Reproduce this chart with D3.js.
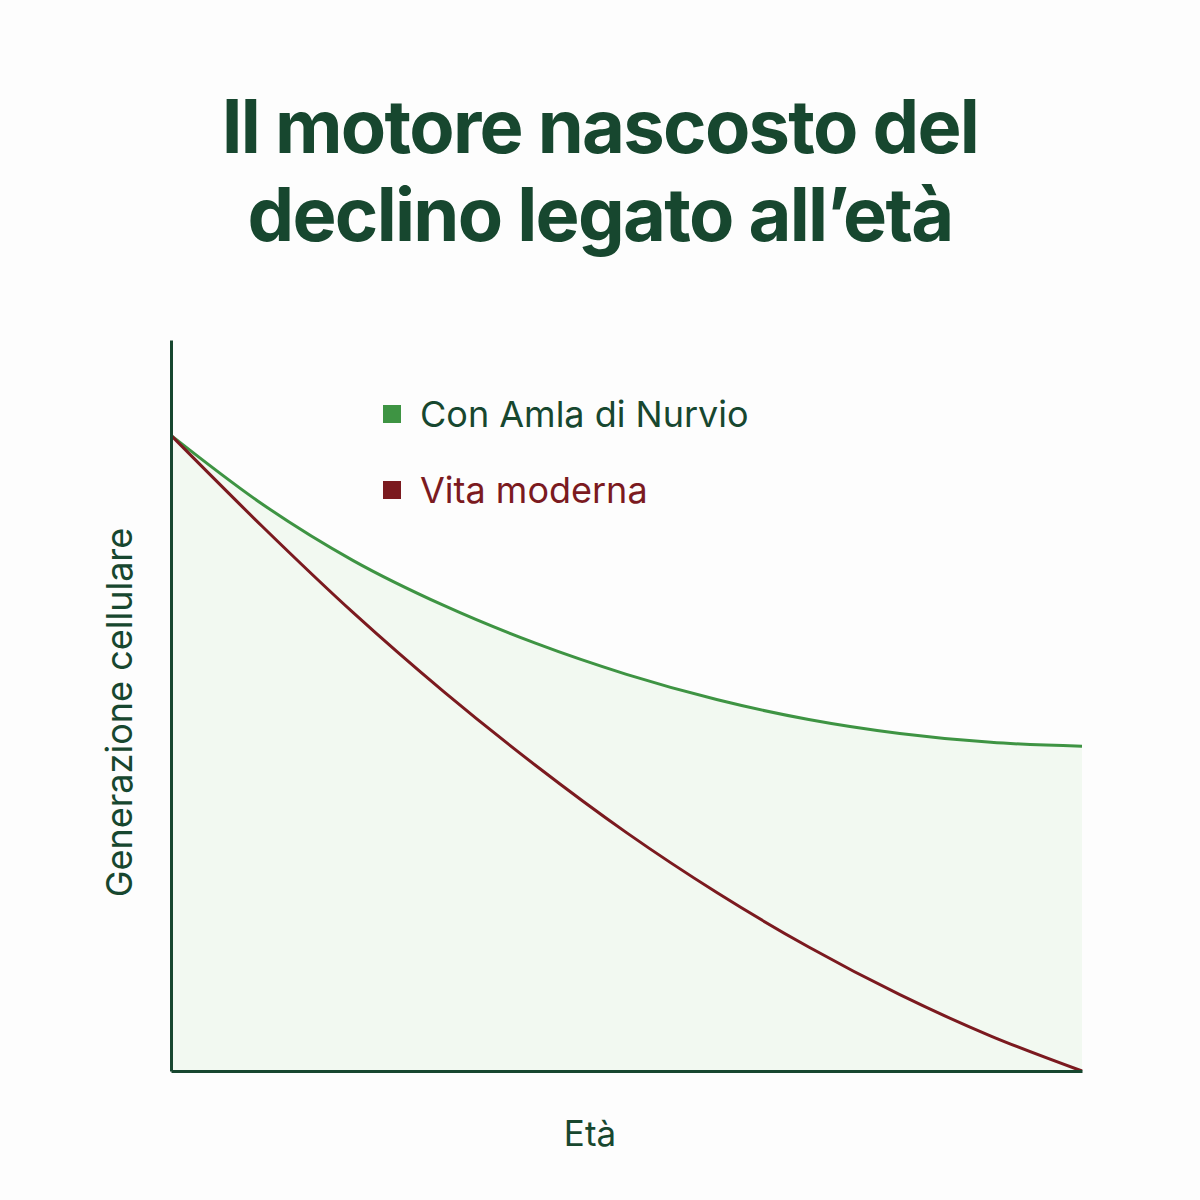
<!DOCTYPE html>
<html lang="it">
<head>
<meta charset="UTF-8">
<title>Il motore nascosto del declino legato all'età</title>
<script src="https://d3js.org/d3.v7.min.js"></script>
<style>
  body { margin: 0; background: #fdfdfd; }
  svg { display: block; }
</style>
</head>
<body>
<svg width="1200" height="1200" viewBox="0 0 1200 1200"></svg>
<script>
    // data (arbitrary units, 100 = starting level)
    const ages = [0, 1, 2, 3, 4, 5, 6, 7, 8, 9, 10]
    const conAmla = [100, 89.2, 80.3, 73.2, 67.3, 62.4, 58.4, 55.3, 53.1, 51.7, 51.1]
    const vitaModerna = [100, 85.7, 72.1, 59.6, 48.1, 37.5, 28.0, 19.5, 12.0, 5.5, 0]
    const seriesNames = ["Con Amla di Nurvio", "Vita moderna"]
    const seriesColors = ["#3e9443", "#7b1a1f"]
    const titleLines = ["Il motore nascosto del", "declino legato all\u2019et\u00e0"]

    const dark = "#17472f"
    let svg = d3.select("svg")

    const x = d3.scaleLinear().domain([0, 10]).range([171, 1082])
    const y = d3.scaleLinear().domain([0, 115]).range([1071, 340])

    // title
    svg.append("g").selectAll("text")
        .data(titleLines)
        .enter().append("text")
        .attr("x", 600)
        .attr("y", (d, i) => 153 + i * 88)
        .attr("text-anchor", "middle")
        .attr("font-family", "Inter, 'Open Sans', sans-serif")
        .attr("font-weight", 700)
        .attr("font-size", 74)
        .attr("letter-spacing", -1.7)
        .attr("fill", dark)
        .text(d => d)

    // light green fill under the upper curve
    const area = d3.area()
        .x((d, i) => x(ages[i]))
        .y0(y(0))
        .y1(d => y(d))
        .curve(d3.curveMonotoneX)

    svg.append("path")
        .attr("d", area(conAmla))
        .attr("fill", "#f2f9f1")

    const line = d3.line()
        .x((d, i) => x(ages[i]))
        .y(d => y(d))
        .curve(d3.curveMonotoneX)

    svg.append("g").selectAll("path")
        .data([conAmla, vitaModerna])
        .enter().append("path")
        .attr("d", d => line(d))
        .attr("fill", "none")
        .attr("stroke", (d, i) => seriesColors[i])
        .attr("stroke-width", 3)

    // axes, no ticks
    svg.append("g")
        .attr("transform", `translate(${x(0)},0)`)
        .call(d3.axisLeft(y).tickValues([]).tickSizeOuter(0))
    svg.append("g")
        .attr("transform", `translate(0,${y(0)})`)
        .call(d3.axisBottom(x).tickValues([]).tickSizeOuter(0))
    svg.selectAll(".domain")
        .attr("stroke", dark)
        .attr("stroke-width", 3)

    // axis titles
    svg.append("text")
        .attr("transform", `translate(132,${(y(0) + y(115)) / 2 + 7}) rotate(-90)`)
        .attr("text-anchor", "middle")
        .attr("font-family", "Inter, sans-serif")
        .attr("font-size", 36)
        .attr("fill", dark)
        .text("Generazione cellulare")

    svg.append("text")
        .attr("x", 590)
        .attr("y", 1146)
        .attr("text-anchor", "middle")
        .attr("font-family", "Inter, sans-serif")
        .attr("font-size", 35)
        .attr("fill", dark)
        .text("Et\u00e0")

    // legend
    const legend = svg.append("g")
        .selectAll("g")
        .data(seriesNames)
        .enter().append("g")
        .attr("transform", (d, i) => `translate(383,${405 + i * 76})`)

    legend.append("rect")
        .attr("width", 18)
        .attr("height", 18)
        .attr("fill", (d, i) => seriesColors[i])

    legend.append("text")
        .attr("x", 37)
        .attr("y", 22)
        .attr("font-family", "Inter, sans-serif")
        .attr("font-size", 36)
        .attr("fill", (d, i) => i === 0 ? dark : seriesColors[i])
        .text(d => d)
</script>
</body>
</html>
